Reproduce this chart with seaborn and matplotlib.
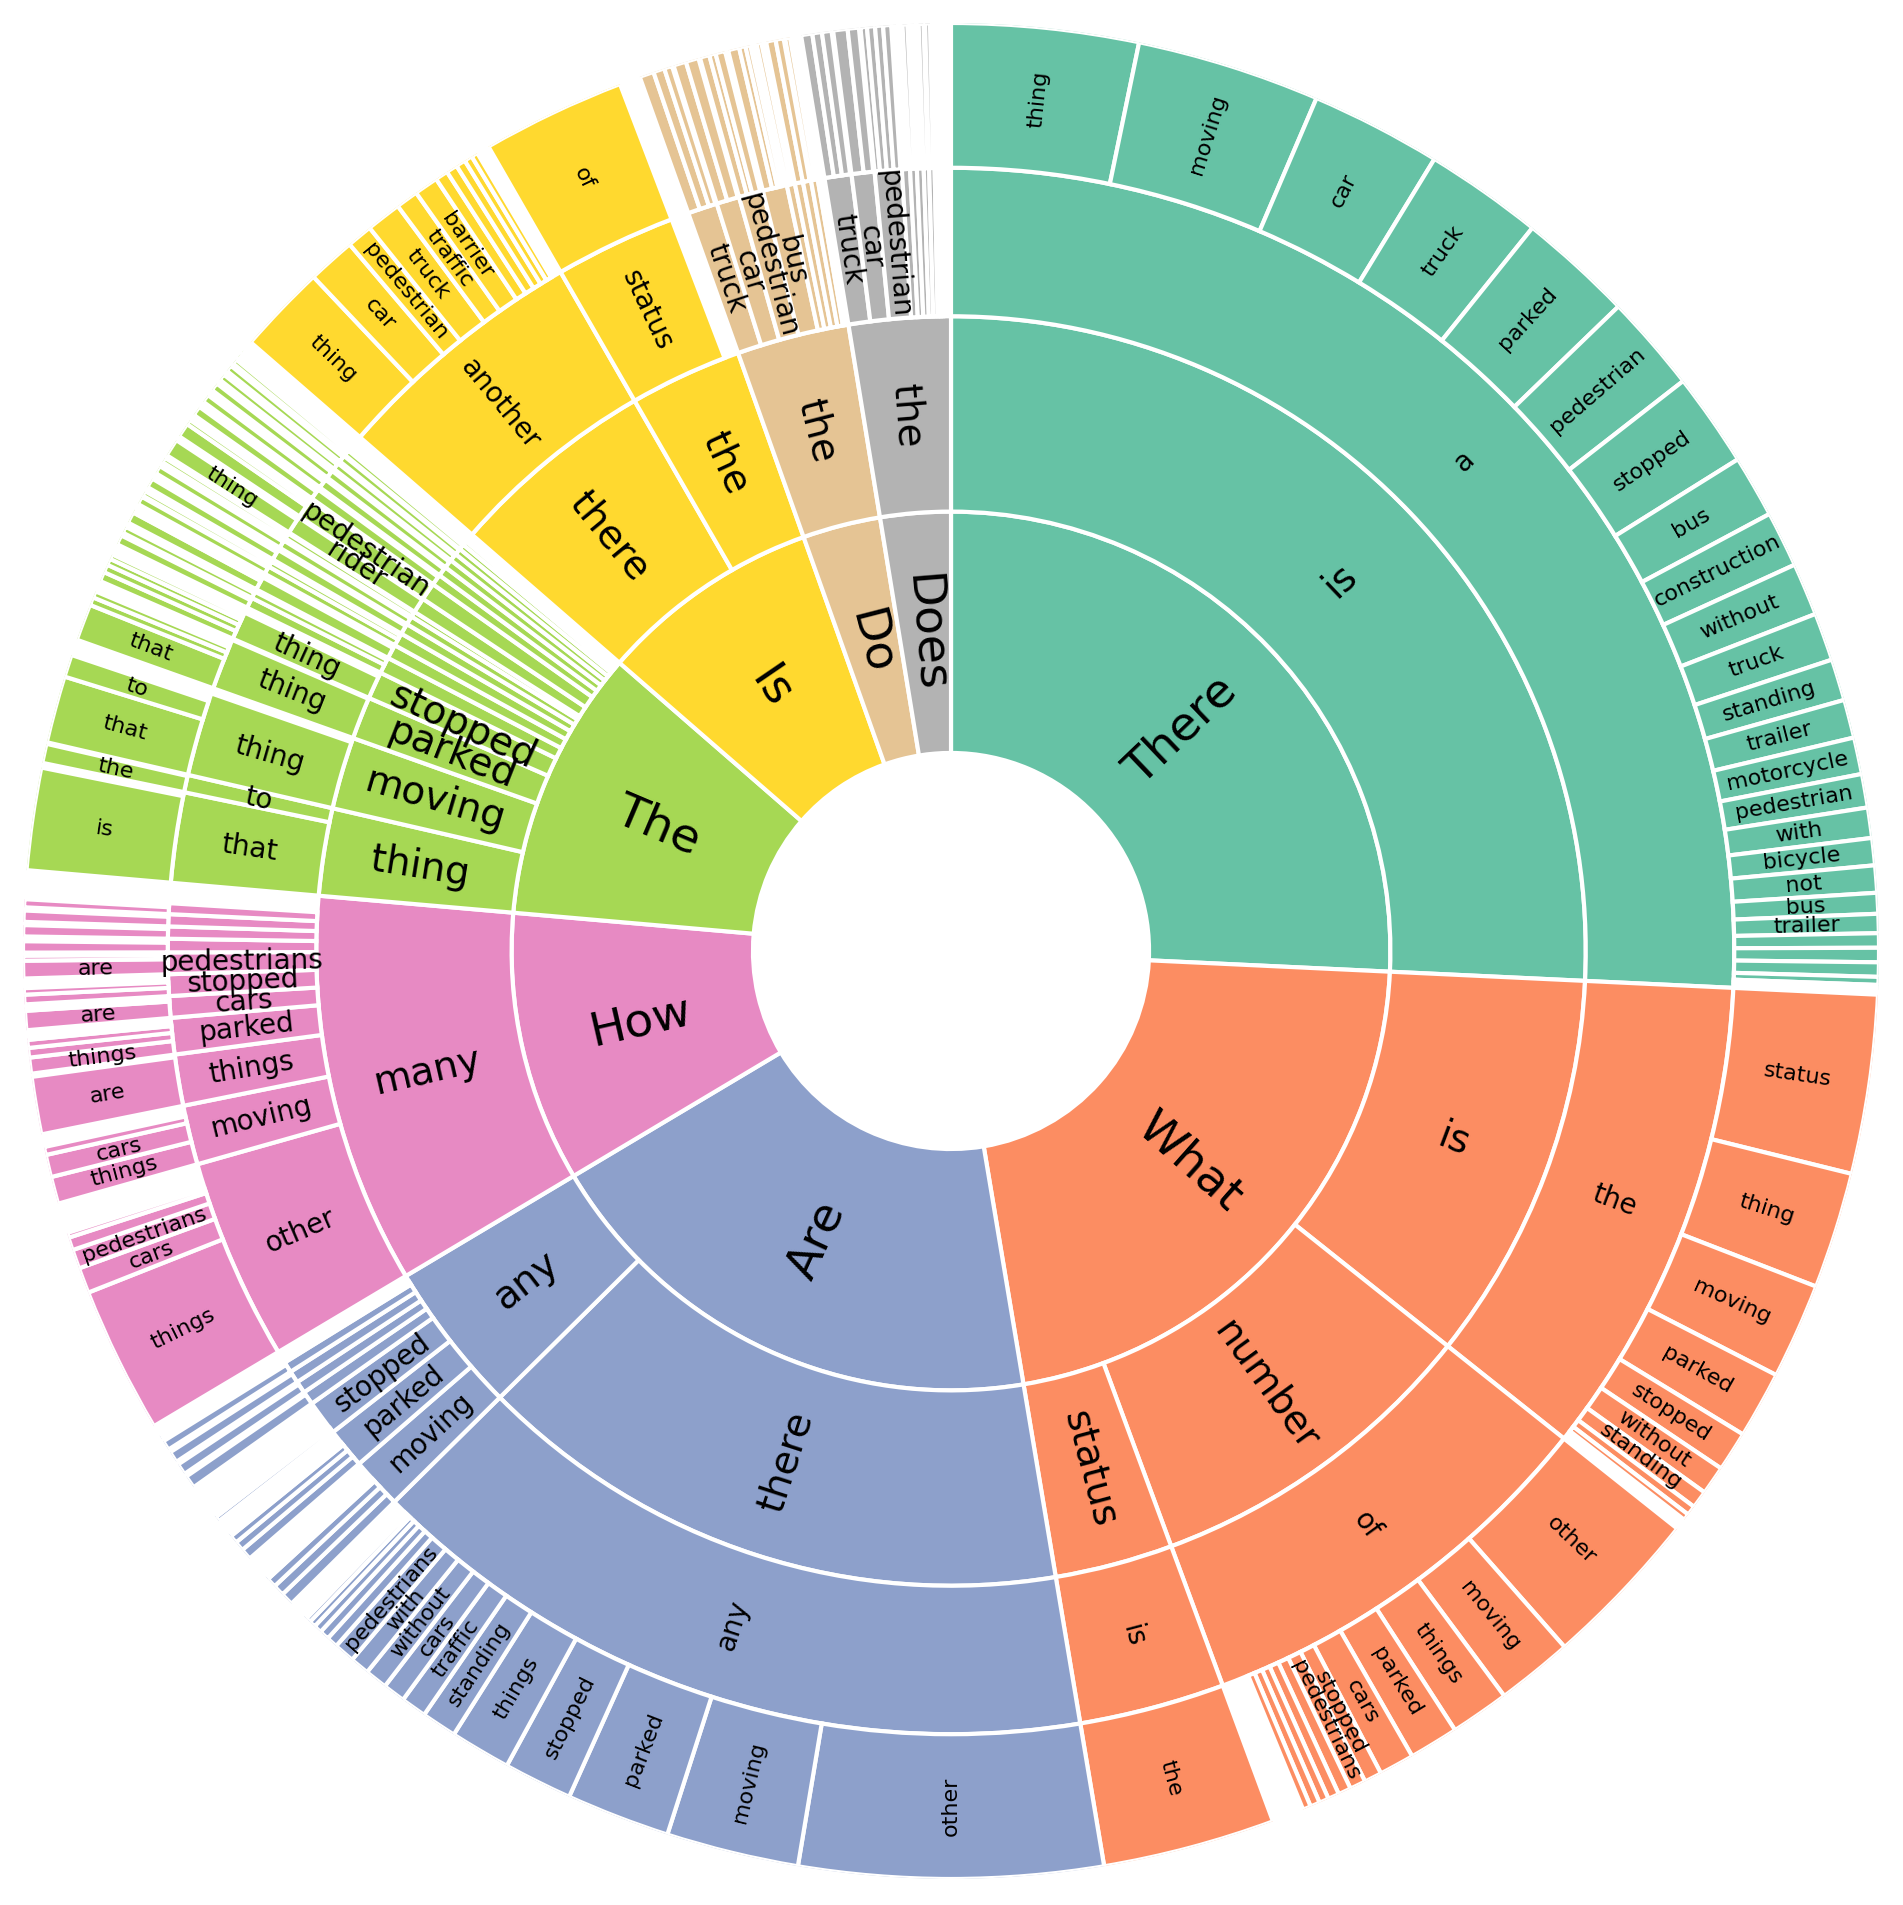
import numpy as np
import matplotlib
matplotlib.use("Agg")
import matplotlib.pyplot as plt
import seaborn as sns

# ------------------------------------------------------------------
# Data: question-prefix tree (values = share of all questions, in
# tenths of a degree of the full circle). Empty labels = unlabeled slivers.
# ------------------------------------------------------------------
l1_labels = ["There", "What", "Are", "How", "The", "Is", "Do", "Does"]
l1_values = [927, 778, 687, 358, 360, 294, 103, 93]

# level 2: children of each level-1 node (in order)
l2_labels = [
    ["is"],
    ["is", "number", "status"],
    ["there", "any"],
    ["many"],
    ["thing", "moving", "parked", "stopped", "", "", "", "", "", "", "", "",
     "", "", "", "", "", "", "", ""],
    ["there", "the"],
    ["the"],
    ["the"],
]
l2_values = [
    [927],
    [358, 312, 108],
    [548, 139],
    [358],
    [80, 66, 39, 25, 15, 13, 12, 10, 8, 5, 14, 16, 10, 9, 8, 7, 6, 5, 4, 3],
    [191, 103],
    [103],
    [93],
]

# level 3: children of each level-2 node (flattened order)
l3_labels = [
    ["a"], ["the"], ["of"], ["is"], ["any"],
    ["moving", "parked", "stopped", "", "", "", "", ""],
    ["other", "moving", "things", "parked", "cars", "stopped", "pedestrians", "", "", "", ""],
    ["that", "to"], ["thing"], ["thing"], ["thing"],
    ["", ""], [""], ["", ""], [""], [""], [""],
    ["rider"], ["pedestrian"],
    [""], [""], [""], [""], [""], [""], [""], [""],
    ["another"], ["status"],
    ["truck", "car", "pedestrian", "bus", "", "", "", "", ""],
    ["truck", "car", "pedestrian", "", "", "", "", "", "", ""],
]
l3_values = [
    [927], [358], [312], [108], [548],
    [38, 30, 26, 10, 9, 9, 8, 3],
    [150, 44, 38, 27, 16, 16, 16, 10, 9, 9, 8],
    [67, 13], [62], [38], [21],
    [8, 5], [10], [6, 4], [8], [6], [4],
    [13], [14],
    [8], [7], [6], [5], [5], [4], [3], [2],
    [191], [90],
    [22, 17, 18, 18, 6, 6, 6, 5, 3],
    [20, 17, 20, 6, 5, 5, 4, 4, 3, 2],
]

# level 4: children of each level-3 node (flattened order)
l4_labels = [
    ["thing", "moving", "car", "truck", "parked", "pedestrian", "stopped", "bus",
     "construction", "without", "truck", "standing", "trailer", "motorcycle",
     "pedestrian", "with", "bicycle", "not", "bus", "trailer", "", "", "", "", "", ""],
    ["status", "thing", "moving", "parked", "stopped", "without", "standing", "", ""],
    ["other", "moving", "things", "parked", "cars", "stopped", "pedestrians", "", "", "", "", ""],
    ["the"],
    ["other", "moving", "parked", "stopped", "things", "standing", "traffic", "cars",
     "without", "with", "pedestrians", "", "", "", "", "", ""],
    ["", "", "", ""], ["", "", "", ""], ["", ""],
    [""], [""], [""], [""], [""],
    ["things", "cars", "pedestrians", "", ""],
    ["things", "cars", ""],
    ["are"],
    ["things", "", "", ""],
    ["are", ""],
    ["", ""],
    ["are", ""],
    [""], [""], [""], [""],
    ["is"], ["the"], ["that", "to"], ["that", "", ""], ["", "", "", ""],
    [""], [""], ["", ""], [""], [""], [""], [""], [""],
    ["thing"], ["", ""],
    [""], [""], [""], [""], [""], [""], [""], [""],
    ["thing", "car", "pedestrian", "truck", "traffic", "barrier", "", "", "", "", ""],
    ["of"],
    ["", "", ""], ["", ""], ["", "", ""], ["", "", ""],
    [""], [""], [""], [""], [],
    ["", "", ""], ["", ""], ["", "", "", ""],
    [""], [""], [""], [""], [""], [], [],
]
l4_values = [
    [117, 115, 82, 74, 72, 61, 59, 39, 35, 33, 30, 26, 24, 23, 21, 19, 17, 17, 13, 12,
     9, 9, 9, 5, 2, 1],
    [112, 73, 60, 42, 25, 18, 11, 6, 4],
    [101, 48, 37, 31, 22, 11, 10, 8, 7, 6, 6, 5],
    [108],
    [190, 83, 65, 43, 38, 22, 16, 14, 14, 12, 13, 7, 6, 5, 4, 3, 2],
    [8, 7, 6, 2], [7, 6, 5, 2], [3, 1],
    [8], [7], [7], [6], [2],
    [92, 16, 12, 8, 3],
    [17, 14, 5],
    [36],
    [10, 6, 5, 1],
    [12, 2],
    [6, 4],
    [11, 3],
    [7], [7], [7], [5],
    [64], [12], [42, 14], [23, 5, 4], [6, 5, 4, 3],
    [6], [4], [7, 2], [5], [3], [6], [5], [3],
    [11], [9, 3],
    [6], [5], [5], [4], [4], [3], [2], [1],
    [56, 30, 16, 22, 14, 15, 8, 7, 6, 5, 4],
    [90],
    [9, 7, 5], [8, 8], [6, 4, 6], [7, 4, 3],
    [3], [6], [5], [3], [],
    [7, 6, 6], [9, 7], [4, 5, 5, 5],
    [2], [3], [2], [3], [3], [], [],
]

# ------------------------------------------------------------------
sns.set_theme(style="white")
palette = sns.color_palette("Set2", len(l1_labels))

ring_edges = [0.2134, 0.4735, 0.684, 0.844, 1.0]
font_sizes = [34, 28, 20, 16]

total = float(sum(l1_values))
k = 2 * np.pi / total

# build layout level by level
levels = []  # each: (starts, widths, labels, branch)
starts, widths, branches = [], [], []
s = 0.0
for i, v in enumerate(l1_values):
    starts.append(s); widths.append(v * k); branches.append(i); s += v * k
levels.append((starts, widths, list(l1_labels), branches))

for lab_nested, val_nested in [(l2_labels, l2_values), (l3_labels, l3_values),
                               (l4_labels, l4_values)]:
    p_starts, _, _, p_branch = levels[-1]
    st, wd, lb, br = [], [], [], []
    for ps, pb, labs, vals in zip(p_starts, p_branch, lab_nested, val_nested):
        s = ps
        for lab, v in zip(labs, vals):
            st.append(s); wd.append(v * k); lb.append(lab); br.append(pb)
            s += v * k
    levels.append((st, wd, lb, br))

fig = plt.figure(figsize=(19.03, 19.05), dpi=100)
ax = fig.add_axes([0.01209, 0.01365, 0.9753, 0.97428], projection="polar")
ax.set_theta_zero_location("N")
ax.set_theta_direction(-1)

for d, (st, wd, lb, br) in enumerate(levels):
    st = np.array(st); wd = np.array(wd)
    ax.bar(st + wd / 2, ring_edges[d + 1] - ring_edges[d], width=wd,
           bottom=ring_edges[d], color=[palette[b] for b in br],
           edgecolor="white", linewidth=3.0, align="center")

for d, (st, wd, lb, br) in enumerate(levels):
    rmid = (ring_edges[d] + ring_edges[d + 1]) / 2
    for s0, w, lab in zip(st, wd, lb):
        if not lab:
            continue
        mid = s0 + w / 2
        deg = np.degrees(mid)
        rot = 90 - deg if deg <= 180 else 270 - deg
        ax.text(mid, rmid, lab, rotation=rot, rotation_mode="anchor",
                ha="center", va="center", fontsize=font_sizes[d],
                color="black", zorder=5)

ax.set_ylim(0, 1)
ax.set_axis_off()
fig.savefig("out.png", dpi=100, facecolor="white")
